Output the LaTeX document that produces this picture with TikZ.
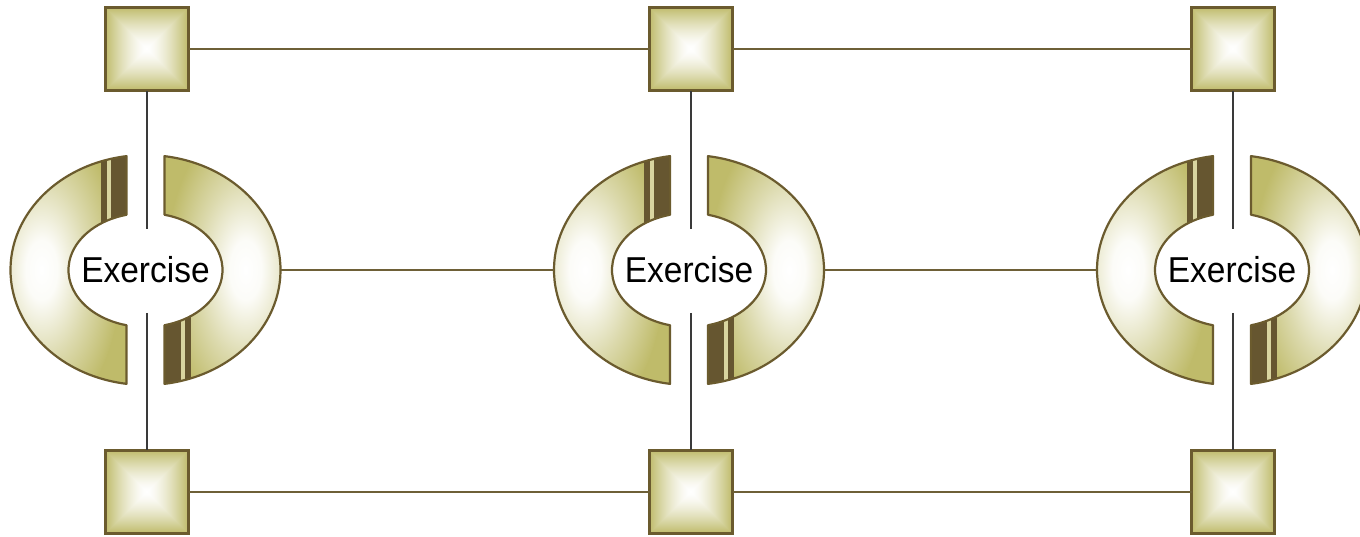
\documentclass[tikz,border=0pt]{standalone}
\usepackage{fontspec}
\newfontfamily\exfont[FakeStretch=0.93]{Liberation Sans}
\usetikzlibrary{shapes.geometric}

\definecolor{olv}{HTML}{BFBB6A}
\definecolor{edgeclr}{HTML}{6B5B2E}
\definecolor{bandclr}{HTML}{665630}
\definecolor{stripeclr}{HTML}{D9D5A0}
\definecolor{vclr}{HTML}{3A3A3A}
\definecolor{hclr}{HTML}{6E6037}

% soft highlight on each ring half
% (the path's bounding box is fitted to the central 50bp of the shading)
\pgfdeclareradialshading{glow}{\pgfpoint{0bp}{0bp}}{%
  color(0bp)=(white);
  color(5bp)=(white!95!olv);
  color(15bp)=(olv!55!white);
  color(25bp)=(olv);
  color(50bp)=(olv)}

\tikzset{
  % left and right halves of the split ring
  lhalf/.style={insert path={(98.09:135pt and 115pt)
      arc[start angle=98.09, end angle=261.91, x radius=135pt, y radius=115pt]
      -- (255.71:77pt and 57pt)
      arc[start angle=255.71, end angle=104.29, x radius=77pt, y radius=57pt] -- cycle}},
  rhalf/.style={insert path={(-81.91:135pt and 115pt)
      arc[start angle=-81.91, end angle=81.91, x radius=135pt, y radius=115pt]
      -- (75.71:77pt and 57pt)
      arc[start angle=75.71, end angle=-75.71, x radius=77pt, y radius=57pt] -- cycle}},
  ringpic/.pic={
    \begin{scope}
      \clip[lhalf];
      \fill[olv] (-140pt,-120pt) rectangle (0,120pt);
      \shade[shading=glow] (-104pt,0) ellipse [x radius=80pt, y radius=150pt];
      \fill[bandclr] (-45pt,0) rectangle (-18pt,130pt);
      \fill[stripeclr] (-39pt,0) rectangle (-35pt,130pt);
    \end{scope}
    \begin{scope}
      \clip[rhalf];
      \fill[olv] (0,-120pt) rectangle (140pt,120pt);
      \shade[shading=glow] (100pt,0) ellipse [x radius=80pt, y radius=150pt];
      \fill[bandclr] (18pt,0) rectangle (45pt,-130pt);
      \fill[stripeclr] (35pt,0) rectangle (39pt,-130pt);
    \end{scope}
    \draw[edgeclr, line width=2.2pt, line join=round, lhalf];
    \draw[edgeclr, line width=2.2pt, line join=round, rhalf];
  },
  exnode/.style={ellipse, minimum width=270pt, minimum height=230pt,
    inner sep=0pt, outer sep=0pt,
    font=\exfont\fontsize{36}{36}\selectfont},
  % square with a pyramid look: nested squares, olive rim to white centre
  sqnode/.style={rectangle, draw=edgeclr, line width=3pt, minimum size=83pt,
    inner sep=0pt, outer sep=0pt,
    path picture={
      \foreach \k in {0,...,41} {
        \pgfmathsetmacro\sfrac{1-\k/42}
        \pgfmathsetmacro\sh{42*\sfrac}
        \pgfmathsetmacro\pct{100*\sfrac^1.5}
        \fill[olv!\pct!white] (path picture bounding box.center)
          ++(-\sh pt,-\sh pt) rectangle ++(2*\sh pt,2*\sh pt);
      }
    }},
  hline/.style={draw=hclr, line width=2pt},
  vline/.style={draw=vclr, line width=2.5pt},
}

\begin{document}
\begin{tikzpicture}[x=1pt, y=1pt]
  \useasboundingbox (0,0) rectangle (1360,536);
  \clip (0,0) rectangle (1360,536);

  % split rings
  \pic at (145.5,266) {ringpic};
  \pic at (689,266) {ringpic};
  \pic at (1232,266) {ringpic};

  % labels (the ellipse node spans the outer rim)
  \node[exnode] (ex1) at (145.5,266) {Exercise};
  \node[exnode] (ex2) at (689,266) {Exercise};
  \node[exnode] (ex3) at (1232,266) {Exercise};

  % squares
  \node[sqnode] (t1) at (147,486.5) {};
  \node[sqnode] (t2) at (691,486.5) {};
  \node[sqnode] (t3) at (1233,486.5) {};
  \node[sqnode] (b1) at (147,44.5) {};
  \node[sqnode] (b2) at (691,44.5) {};
  \node[sqnode] (b3) at (1233,44.5) {};

  % free ends of the vertical lines inside the ring gaps
  \coordinate (u1) at (147,307);
  \coordinate (u2) at (691,307);
  \coordinate (u3) at (1233,307);
  \coordinate (d1) at (147,223);
  \coordinate (d2) at (691,223);
  \coordinate (d3) at (1233,223);

  % horizontal connectors
  \draw[hline] (t1.east) -- (t2.west);
  \draw[hline] (t2.east) -- (t3.west);
  \draw[hline] (b1.east) -- (b2.west);
  \draw[hline] (b2.east) -- (b3.west);
  \draw[hline] (ex1.east) -- (ex2.west);
  \draw[hline] (ex2.east) -- (ex3.west);

  % vertical connectors
  \draw[vline] (t1.south) -- (u1);
  \draw[vline] (d1) -- (b1.north);
  \draw[vline] (t2.south) -- (u2);
  \draw[vline] (d2) -- (b2.north);
  \draw[vline] (t3.south) -- (u3);
  \draw[vline] (d3) -- (b3.north);
\end{tikzpicture}
\end{document}
